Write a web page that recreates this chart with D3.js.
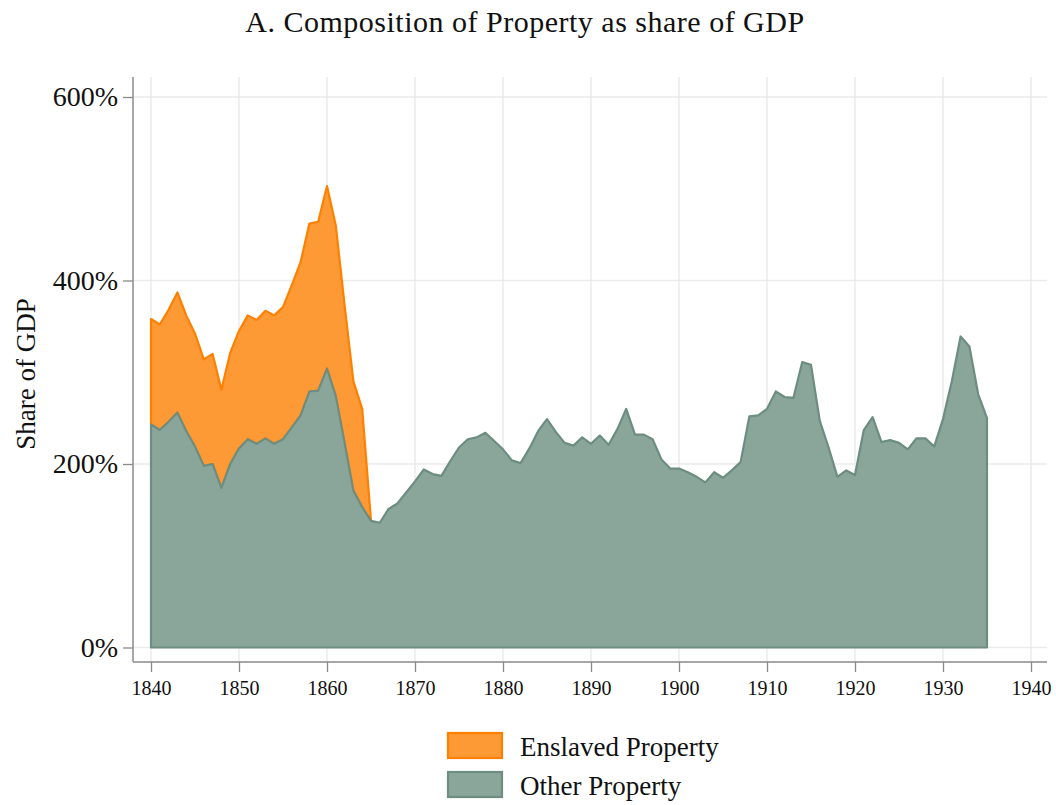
<!DOCTYPE html>
<html>
<head>
<meta charset="utf-8">
<script src="https://cdn.jsdelivr.net/npm/d3@7"></script>
<style>
  body { margin: 0; background: #fff; }
  svg { display: block; font-family: "Liberation Serif", "DejaVu Serif", serif; }
</style>
</head>
<body>
<div id="chart"></div>
<script>
// years 1840..1935
const years = d3.range(1840, 1936);

// other property, % of GDP
const otherProperty = [
  243, 237, 246, 256, 236, 219, 198, 200, 174, 200,
  217, 227, 222, 228, 222, 227, 240, 253, 279, 280,
  304, 274, 223, 171, 153, 138, 136, 151, 157, 169,
  181, 194, 189, 187, 203, 218, 227, 229, 234, 225,
  216, 204, 201, 217, 236, 249, 235, 223, 220, 229,
  222, 231, 221, 238, 260, 232, 232, 227, 205, 195,
  195, 191, 186, 180, 191, 185, 193, 202, 252, 253,
  260, 279, 273, 272, 311, 308, 247, 218, 186, 193,
  188, 237, 251, 224, 226, 223, 216, 228, 228, 219,
  249, 290, 339, 328, 276, 250
];

// total (other + enslaved), 1840..1865
const totalProperty = [
  358, 352, 368, 387, 362, 342, 314, 320, 281, 321,
  345, 362, 357, 367, 362, 371, 395, 420, 462, 464,
  503, 460, 373, 290, 260, 138
];

const yTicks = [0, 200, 400, 600];
const xTicks = d3.range(1840, 1941, 10);
const legendLabels = ["Enslaved Property", "Other Property"];

const W = 1056, H = 805;
const svg = d3.select('#chart').append('svg').attr('width', W).attr('height', H);

const x = d3.scaleLinear().domain([1840, 1940]).range([151, 1031]);
const y = d3.scaleLinear().domain([0, 600]).range([647.5, 97]);

const plotL = 133, plotR = 1047, plotT = 77, plotB = 662;

// grid
const grid = svg.append('g');
grid.selectAll('line.v').data(xTicks).enter().append('line')
  .attr('x1', d => x(d)).attr('x2', d => x(d))
  .attr('y1', plotT).attr('y2', plotB)
  .attr('stroke', '#ebebeb').attr('stroke-width', 1.5);
grid.selectAll('line.h').data(yTicks).enter().append('line')
  .attr('x1', plotL).attr('x2', plotR)
  .attr('y1', d => y(d)).attr('y2', d => y(d))
  .attr('stroke', '#ebebeb').attr('stroke-width', 1.5);

// areas
const enslavedData = totalProperty.map((t, i) => ({ year: years[i], top: t, base: otherProperty[i] }));
const otherData = otherProperty.map((v, i) => ({ year: years[i], top: v }));

const band = d3.area().x(d => x(d.year)).y0(d => y(d.base)).y1(d => y(d.top));
const area = d3.area().x(d => x(d.year)).y0(y(0)).y1(d => y(d.top));

svg.append('path').datum(enslavedData)
  .attr('d', band)
  .attr('fill', '#fe9a35').attr('stroke', '#ff8000').attr('stroke-width', 2.2)
  .attr('stroke-linejoin', 'round');

svg.append('path').datum(otherData)
  .attr('d', area)
  .attr('fill', '#8aa69b').attr('stroke', '#6c8d80').attr('stroke-width', 2.2)
  .attr('stroke-linejoin', 'round');

// axes
const yAxis = d3.axisLeft(y).tickValues(yTicks).tickSize(10).tickPadding(5)
  .tickFormat(d => d + '%');
const gy = svg.append('g').attr('transform', `translate(${plotL},0)`).call(yAxis);
gy.select('.domain').remove();
gy.selectAll('.tick line').attr('stroke', '#8a8a8a').attr('stroke-width', 1.3);
gy.selectAll('.tick text').attr('font-size', 28).attr('fill', '#111')
  .attr('font-family', '"Liberation Serif", serif');

const xAxis = d3.axisBottom(x).tickValues(xTicks).tickSize(10).tickPadding(9)
  .tickFormat(d3.format('d'));
const gx = svg.append('g').attr('transform', `translate(0,${plotB})`).call(xAxis);
gx.select('.domain').remove();
gx.selectAll('.tick line').attr('stroke', '#8a8a8a').attr('stroke-width', 1.3);
gx.selectAll('.tick text').attr('font-size', 20).attr('fill', '#111')
  .attr('font-family', '"Liberation Serif", serif');

svg.append('line').attr('x1', plotL).attr('x2', plotL).attr('y1', plotT).attr('y2', plotB)
  .attr('stroke', '#8a8a8a').attr('stroke-width', 1.5);
svg.append('line').attr('x1', plotL).attr('x2', plotR).attr('y1', plotB).attr('y2', plotB)
  .attr('stroke', '#8a8a8a').attr('stroke-width', 1.5);

// titles
svg.append('text').attr('x', 525).attr('y', 32).attr('text-anchor', 'middle')
  .attr('font-size', 30).attr('letter-spacing', 0.5).attr('fill', '#111')
  .text('A. Composition of Property as share of GDP');

svg.append('text').attr('transform', 'translate(35,374) rotate(-90)')
  .attr('text-anchor', 'middle').attr('font-size', 27).attr('fill', '#111')
  .text('Share of GDP');

// legend
const legendColors = [['#fe9a35', '#ff8000'], ['#8aa69b', '#6c8d80']];
const lg = svg.append('g').attr('transform', 'translate(448,733)');
legendLabels.forEach((lab, i) => {
  lg.append('rect').attr('x', 0).attr('y', i * 39).attr('width', 54).attr('height', 25)
    .attr('fill', legendColors[i][0]).attr('stroke', legendColors[i][1]).attr('stroke-width', 2.2);
  lg.append('text').attr('x', 72).attr('y', i * 39 + 23)
    .attr('font-size', 27).attr('fill', '#111').text(lab);
});
</script>
</body>
</html>
